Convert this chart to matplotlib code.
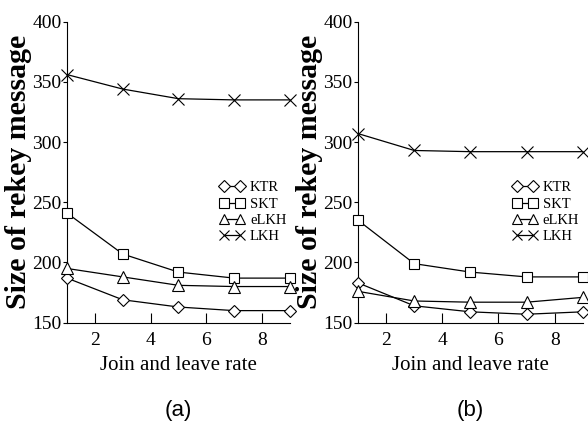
import numpy as np
import matplotlib.pyplot as plt

# rekey message size vs join/leave rate

rate = [1, 3, 5, 7, 9]

# (a)
ktr_a = [187, 169, 163, 160, 160]
skt_a = [241, 207, 192, 187, 187]
elkh_a = [195, 188, 181, 180, 180]
lkh_a = [356, 344, 336, 335, 335]

# (b)
ktr_b = [183, 164, 159, 157, 159]
skt_b = [235, 199, 192, 188, 188]
elkh_b = [176, 168, 167, 167, 171]
lkh_b = [307, 293, 292, 292, 292]

names = ["KTR", "SKT", "eLKH", "LKH"]
markers = ["D", "s", "^", "x"]
msizes = [6, 7, 8, 8]

plt.rcParams['font.family'] = ['Liberation Serif', 'DejaVu Serif']

fig = plt.figure(figsize=(5.88, 4.24), dpi=100)
ax1 = fig.add_axes([0.114, 0.239, 0.379, 0.71])
ax2 = fig.add_axes([0.609, 0.239, 0.382, 0.71])

panels = [(ax1, [ktr_a, skt_a, elkh_a, lkh_a], "(a)"),
          (ax2, [ktr_b, skt_b, elkh_b, lkh_b], "(b)")]

for ax, series, tag in panels:
    for vals, nm, mk, ms in zip(series, names, markers, msizes):
        ax.plot(rate, vals, color='black', linewidth=0.9, marker=mk,
                markersize=ms, markerfacecolor='white',
                markeredgecolor='black', markeredgewidth=0.8, label=nm,
                clip_on=False, zorder=3)
    ax.set_xlim(1, 9)
    ax.set_ylim(150, 400)
    ax.set_xticks([2, 4, 6, 8])
    ax.set_yticks([150, 200, 250, 300, 350, 400])
    ax.spines['top'].set_visible(False)
    ax.spines['right'].set_visible(False)
    ax.tick_params(axis='x', direction='in', length=7, labelsize=14, pad=7)
    ax.tick_params(axis='y', direction='out', length=3, labelsize=14, pad=1)
    ax.set_xlabel("Join and leave rate", fontsize=15, labelpad=5)
    ax.set_ylabel("Size of rekey message", fontsize=21.5, fontweight='bold', labelpad=0)
    ax.legend(loc='upper right', bbox_to_anchor=(1.01, 0.49), frameon=False,
              numpoints=2, handlelength=1.7, handletextpad=0.35,
              labelspacing=0.22, fontsize=10.5, borderaxespad=0,
              markerscale=0.95)
    ax.text(0.5, -0.293, tag, transform=ax.transAxes, ha='center', va='center',
            fontsize=16, family='Liberation Sans')

plt.savefig("out.png", dpi=100)
